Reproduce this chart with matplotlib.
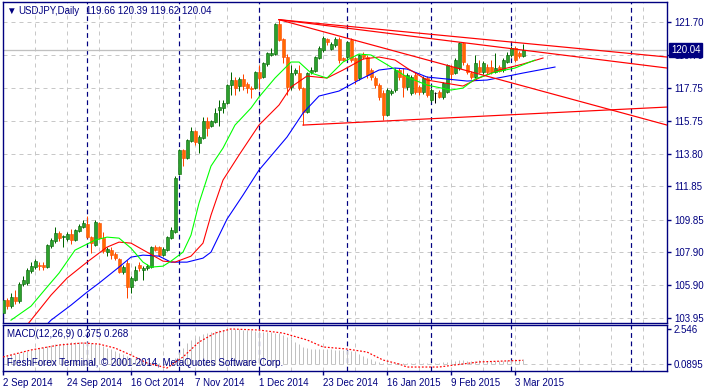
import matplotlib
matplotlib.use("Agg")
import matplotlib.pyplot as plt
from matplotlib.transforms import blended_transform_factory
import numpy as np
import pandas as pd

# daily bars 2 Sep 2014 .. 5 Mar 2015, broker has no bar on 25 Dec / 1 Jan
dates = pd.bdate_range("2014-09-02", "2015-03-05")
dates = dates[~dates.isin(pd.to_datetime(["2014-12-25", "2015-01-01"]))]

opens = [104.24, 105.02, 104.66, 105.20, 104.96, 105.98, 106.04, 106.76, 107.00, 107.12,
         107.12, 107.00, 108.26, 108.56, 109.04, 108.80, 108.68, 108.98, 108.62, 109.16,
         109.40, 109.58, 108.80, 108.32, 109.64, 108.74, 107.90, 108.02, 107.78, 107.48,
         106.70, 107.24, 105.80, 106.22, 107.12, 106.82, 106.94, 107.00, 108.20, 108.20,
         107.72, 108.02, 108.74, 109.10, 112.58, 114.02, 113.54, 114.56, 115.16, 114.44,
         114.74, 115.76, 115.46, 115.70, 116.42, 116.54, 116.84, 117.92, 118.22, 117.86,
         118.28, 117.98, 117.74, 117.74, 118.70, 118.40, 119.18, 119.72, 119.78, 121.58,
         120.68, 119.60, 117.80, 118.64, 118.64, 117.74, 116.30, 118.70, 118.76, 119.54,
         120.02, 120.68, 120.08, 120.32, 120.68, 119.54, 119.60, 120.62, 119.54, 118.34,
         119.78, 119.60, 118.82, 118.34, 117.92, 117.44, 116.12, 117.44, 117.62, 118.82,
         118.52, 117.80, 117.44, 118.52, 117.80, 117.50, 118.34, 117.02, 117.44, 117.50,
         117.20, 117.50, 119.00, 118.64, 118.94, 120.44, 119.12, 118.64, 118.40, 119.00,
         118.70, 119.00, 119.00, 118.70, 119.00, 118.82, 119.30, 119.72, 120.14, 119.84,
         119.66]
highs = [105.26, 105.14, 105.44, 105.62, 106.10, 106.46, 106.94, 107.30, 107.48, 107.30,
         107.30, 108.38, 108.74, 109.40, 109.16, 108.92, 109.10, 109.28, 109.28, 109.58,
         109.82, 110.06, 108.86, 109.82, 109.70, 109.10, 108.20, 108.20, 107.90, 107.54,
         107.12, 107.42, 106.46, 107.06, 107.30, 107.06, 107.18, 108.26, 108.32, 108.26,
         108.20, 108.86, 109.40, 112.46, 114.08, 114.08, 114.68, 115.40, 115.22, 114.92,
         116.00, 116.00, 115.82, 116.54, 117.02, 117.02, 117.98, 118.70, 118.40, 118.40,
         118.58, 118.10, 117.86, 118.76, 119.12, 119.30, 119.90, 120.14, 121.64, 121.84,
         120.74, 119.78, 119.12, 118.94, 119.12, 117.80, 118.70, 119.00, 119.66, 120.26,
         120.86, 120.74, 120.50, 120.80, 120.80, 119.60, 120.56, 120.74, 119.60, 119.78,
         119.90, 119.72, 118.94, 118.46, 118.04, 117.62, 117.74, 117.68, 118.94, 118.94,
         118.94, 118.64, 118.52, 118.70, 117.92, 118.46, 118.46, 117.74, 117.50, 117.62,
         118.10, 119.18, 119.12, 119.54, 120.50, 120.50, 119.24, 118.76, 119.72, 119.42,
         119.36, 119.18, 119.42, 119.84, 119.12, 119.54, 119.90, 120.26, 120.26, 119.96,
         120.39]
lows = [104.06, 104.48, 104.54, 104.78, 104.84, 105.86, 105.92, 106.64, 106.88, 106.82,
        106.82, 106.94, 108.14, 108.44, 108.56, 108.20, 108.56, 108.38, 108.56, 109.10,
        109.34, 108.74, 107.84, 108.26, 108.68, 107.84, 107.66, 107.48, 107.42, 106.64,
        106.58, 105.14, 105.44, 106.16, 106.76, 106.22, 106.82, 106.94, 107.96, 107.66,
        107.66, 107.96, 108.68, 109.04, 112.52, 113.06, 113.48, 114.50, 114.32, 113.84,
        114.68, 114.86, 115.40, 115.64, 115.46, 116.24, 116.78, 117.32, 117.32, 117.56,
        117.62, 117.44, 117.14, 117.68, 117.68, 118.34, 119.06, 119.66, 119.72, 120.56,
        119.24, 117.32, 117.62, 118.52, 117.62, 115.52, 116.24, 118.58, 118.70, 119.48,
        119.90, 120.32, 120.02, 120.20, 119.24, 119.36, 119.54, 119.30, 117.98, 118.22,
        119.48, 118.34, 118.22, 117.74, 117.02, 115.82, 116.06, 117.32, 117.50, 118.22,
        117.20, 117.62, 117.32, 117.38, 117.32, 117.38, 117.20, 116.90, 116.84, 117.14,
        117.08, 117.44, 118.22, 118.58, 118.82, 119.12, 118.58, 118.28, 118.34, 118.64,
        118.58, 118.58, 118.58, 118.64, 118.70, 118.70, 119.24, 119.60, 119.30, 119.54,
        119.62]
closes = [105.02, 104.66, 105.20, 104.96, 105.98, 106.22, 106.82, 107.06, 107.36, 107.06,
          107.00, 108.32, 108.62, 109.04, 108.74, 108.86, 108.98, 108.62, 109.22, 109.46,
          109.64, 108.80, 108.44, 109.70, 108.74, 107.96, 108.08, 107.72, 107.54, 106.70,
          107.00, 105.80, 106.34, 106.82, 106.94, 106.94, 107.06, 108.20, 108.02, 107.72,
          108.08, 108.80, 109.22, 112.34, 114.02, 113.54, 114.62, 115.16, 114.50, 114.80,
          115.76, 115.34, 115.76, 116.24, 116.60, 116.84, 117.92, 118.22, 117.74, 118.28,
          117.86, 117.74, 117.70, 118.70, 118.34, 119.24, 119.84, 119.84, 121.58, 120.62,
          119.60, 117.80, 118.64, 118.82, 117.74, 116.30, 118.64, 118.82, 119.60, 120.14,
          120.74, 120.50, 120.38, 120.68, 119.42, 119.42, 120.50, 119.42, 118.22, 119.72,
          119.60, 118.52, 118.40, 117.92, 117.20, 116.12, 117.62, 117.56, 118.82, 118.40,
          117.80, 118.52, 118.40, 117.50, 117.50, 118.34, 117.32, 117.62, 117.44, 117.20,
          118.04, 119.12, 118.58, 119.42, 120.44, 119.30, 118.70, 118.40, 119.24, 118.70,
          119.24, 118.70, 118.70, 118.94, 118.76, 119.42, 119.72, 120.14, 119.42, 119.66,
          120.04]

# Alligator lines: bar index -> price
jaw_idx = [6, 12, 17, 21, 24, 29, 32, 35, 39, 42, 46, 50, 52, 56, 60, 64, 71, 75, 79, 84,
           89, 94, 98, 101, 106, 111, 116, 121, 125, 130, 134, 138]
jaw_val = [102.32, 103.82, 104.72, 105.50, 106.04, 107.00, 107.60, 107.72, 107.66, 107.30,
           107.30, 107.54, 107.90, 109.88, 111.32, 112.82, 114.80, 116.24, 117.26, 117.56,
           118.22, 118.82, 118.94, 118.88, 118.40, 118.28, 118.16, 118.22, 118.40, 118.64,
           118.82, 119.00]
teeth_idx = [4, 7, 12, 16, 21, 26, 29, 32, 36, 40, 43, 47, 50, 52, 55, 59, 64, 69, 72, 76,
             81, 85, 90, 94, 98, 101, 106, 115, 119, 124, 130, 135]
teeth_val = [102.92, 103.82, 105.32, 106.34, 107.30, 108.20, 108.50, 108.44, 107.90, 107.36,
             107.30, 107.66, 108.44, 110.12, 112.22, 113.72, 115.52, 116.72, 117.80, 118.46,
             118.34, 118.82, 119.48, 119.60, 119.42, 118.94, 118.22, 117.86, 118.34, 118.82,
             119.18, 119.54]
lips_idx = [2, 7, 11, 14, 18, 23, 26, 29, 32, 35, 37, 40, 42, 45, 47, 49, 52, 55, 58, 62,
            64, 68, 72, 74, 77, 81, 85, 89, 92, 97, 101, 106, 112, 115, 118, 123, 128, 133]
lips_val = [103.82, 104.66, 105.80, 106.64, 108.02, 108.62, 108.80, 108.74, 108.14, 107.30,
            107.00, 107.06, 107.36, 107.90, 108.92, 110.84, 113.06, 114.14, 115.52, 116.54,
            117.20, 118.34, 119.30, 119.30, 118.64, 118.34, 119.30, 119.78, 119.72, 119.00,
            118.40, 117.92, 117.62, 117.74, 118.28, 118.70, 118.94, 119.42]

# trend lines: start bar, start price, price at right edge of chart
tl_start_idx = [69, 69, 69, 75]
tl_start_val = [121.84, 121.84, 121.84, 115.52]
tl_end_val = [119.60, 118.94, 115.52, 116.60]

# MACD(12,26,9): main histogram per bar, signal read at points
macd_main = [0.60, 0.65, 0.70, 0.75, 0.80, 0.88, 0.95, 1.02, 1.10, 1.15,
             1.22, 1.30, 1.36, 1.42, 1.48, 1.52, 1.55, 1.58, 1.60, 1.62,
             1.62, 1.58, 1.50, 1.45, 1.40, 1.30, 1.20, 1.10, 0.98, 0.82,
             0.70, 0.55, 0.45, 0.35, 0.25, 0.18, 0.12, 0.10, 0.08, 0.08,
             0.08, 0.10, 0.15, 0.45, 0.85, 1.20, 1.50, 1.75, 1.90, 2.05,
             2.15, 2.25, 2.32, 2.40, 2.45, 2.50, 2.53, 2.546, 2.54, 2.52,
             2.50, 2.48, 2.45, 2.43, 2.40, 2.35, 2.32, 2.30, 2.25, 2.22,
             2.10, 1.95, 1.80, 1.60, 1.45, 1.25, 1.15, 1.10, 1.08, 1.08,
             1.10, 1.10, 1.08, 1.05, 1.02, 1.00, 1.00, 0.98, 0.90, 0.75,
             0.60, 0.45, 0.35, 0.25, 0.15, 0.10, 0.12, 0.08, 0.10, 0.10,
             0.08, 0.06, 0.05, 0.05, 0.04, 0.05, 0.06, 0.10, 0.08, 0.08,
             0.12, 0.18, 0.20, 0.22, 0.30, 0.28, 0.25, 0.22, 0.24, 0.26,
             0.25, 0.24, 0.24, 0.24, 0.23, 0.25, 0.27, 0.30, 0.30, 0.32,
             0.375]
sig_idx = [0, 7, 14, 20, 24, 28, 32, 36, 41, 45, 49, 53, 57, 64, 70, 76, 80, 86, 91, 95,
           99, 101, 109, 113, 119, 130]
sig_val = [0.51, 1.02, 1.38, 1.53, 1.45, 1.16, 0.65, 0.07, -0.29, 0.51, 1.60, 2.25, 2.55,
           2.47, 2.25, 1.75, 1.24, 1.09, 0.87, 0.29, 0.00, -0.22, -0.22, -0.07, 0.15, 0.268]

price_ticks = [121.70, 119.70, 117.75, 115.75, 113.80, 111.85, 109.85, 107.90, 105.90, 103.95]

NAVY = "#000080"
GRID = "#c8c8c8"
PX = 0.72  # one screen pixel in points
FONT = ["Liberation Sans", "DejaVu Sans"]
plt.rcParams["font.family"] = FONT

W, H = 707, 389
fig = plt.figure(figsize=(W / 100, H / 100), dpi=100)
fig.patch.set_facecolor("white")


def rect(l, t, r, b):
    return [l / W, 1 - b / H, (r - l) / W, (b - t) / H]


ax = fig.add_axes(rect(3, 2, 667, 322.5))
axm = fig.add_axes(rect(3, 324.7, 667, 371), sharex=ax)

n = len(closes)
x = np.arange(n)
o, h, l, c = map(np.array, (opens, highs, lows, closes))
XMAX = 166

ax.set_xlim(0, XMAX)
ax.set_ylim(103.68, 122.90)
axm.set_ylim(-0.509, 2.859)

# grid: grey every 8 bars, navy month separators
for a in (ax, axm):
    for g in range(0, XMAX, 8):
        a.axvline(g, color=GRID, lw=PX, ls=(0, (4, 4)), zorder=0)
month_start = [i for i in range(1, n) if dates[i].month != dates[i - 1].month] + [157]
for a in (ax, axm):
    for m in month_start:
        a.axvline(m, color=NAVY, lw=PX * 1.2, ls=(0, (4, 3)), zorder=1)
for p in price_ticks:
    ax.axhline(p, color=GRID, lw=PX, ls=(0, (4, 4)), zorder=0)

# current bid line
ax.axhline(closes[-1], color="#c0c0c0", lw=PX * 1.3, zorder=1)

# candles
up = c > o
doji = c == o
wick_col = np.where(up, "#006400", "#ff4500")
wick_col = np.where(doji, "#000000", wick_col)
ax.vlines(x, l, h, colors=wick_col, lw=PX, zorder=2)
body_lo = np.minimum(o, c)
body_h = np.maximum(np.abs(c - o), 0.02)
face = np.where(up, "#2ca02c", "#ff6a00")
face = np.where(doji, "#000000", face)
edge = np.where(up, "#006400", "#ff4500")
edge = np.where(doji, "#000000", edge)
ax.bar(x, body_h, bottom=body_lo, width=0.75, color=face, edgecolor=edge, lw=0.4, zorder=3)

# alligator
ax.plot(jaw_idx, jaw_val, color="#0000ff", lw=PX * 1.1, zorder=4)
ax.plot(teeth_idx, teeth_val, color="#ff0000", lw=PX * 1.1, zorder=4)
ax.plot(lips_idx, lips_val, color="#00ff00", lw=PX * 1.1, zorder=4)

# trend lines
for x0, p0, p1 in zip(tl_start_idx, tl_start_val, tl_end_val):
    ax.plot([x0, XMAX], [p0, p1], color="#ff0000", lw=PX * 1.2, zorder=5)

# price axis
ax.yaxis.tick_right()
ax.set_yticks(price_ticks)
ax.set_yticklabels([f"{p:.2f}" for p in price_ticks])
ax.tick_params(axis="y", colors=NAVY, labelsize=7, length=3, pad=2, width=1)
ax.tick_params(axis="x", bottom=False, labelbottom=False)
trans = blended_transform_factory(ax.transAxes, ax.transData)
ax.text(1.006, closes[-1], f"{closes[-1]:.2f}", transform=trans, ha="left", va="center",
        color="white", fontsize=7,
        bbox=dict(boxstyle="square,pad=0.2", fc=NAVY, ec=NAVY), clip_on=False, zorder=10)

# macd
axm.vlines(x, 0, macd_main, colors="#c0c0c0", lw=PX, zorder=2)
axm.plot(sig_idx, sig_val, color="#ff0000", lw=PX * 1.2, ls=(0, (1.5, 1.5)), zorder=3)
axm.axhline(0.0, color=GRID, lw=PX, ls=(0, (4, 4)), zorder=0)
axm.yaxis.tick_right()
axm.set_yticks([2.546, 0.0])
axm.set_yticklabels(["2.546", "0.0895"])
axm.tick_params(axis="y", colors=NAVY, labelsize=7, length=3, pad=2, width=1)

lab_idx = list(range(0, n, 16))
axm.set_xticks(lab_idx)
axm.set_xticklabels([f"{dates[i].day} {dates[i]:%b %Y}" for i in lab_idx])
axm.tick_params(axis="x", colors=NAVY, labelsize=7, length=3, pad=2, width=1)
for t in axm.get_xticklabels():
    t.set_ha("left")

for a in (ax, axm):
    a.set_facecolor("white")
    for s in a.spines.values():
        s.set_color(NAVY)
        s.set_linewidth(1)

# captions
fig.text(6 / W, 1 - 11 / H, "\u25bc", color=NAVY, fontsize=7, va="center", family=FONT)
fig.text(18 / W, 1 - 11 / H, "USDJPY,Daily", color=NAVY, fontsize=7, va="center")
fig.text(86 / W, 1 - 11 / H, " ".join(f"{v:.2f}" for v in (opens[-1], highs[-1], lows[-1], closes[-1])),
         color=NAVY, fontsize=7, va="center")
fig.text(7 / W, 1 - 334 / H, f"MACD(12,26,9) {macd_main[-1]:.3f} {sig_val[-1]:.3f}",
         color=NAVY, fontsize=7, va="center")
fig.text(7 / W, 1 - 363 / H, "FreshForex Terminal, \u00a9 2001-2014, MetaQuotes Software Corp.",
         color=NAVY, fontsize=7, va="center")

fig.savefig("out.png", dpi=100)
